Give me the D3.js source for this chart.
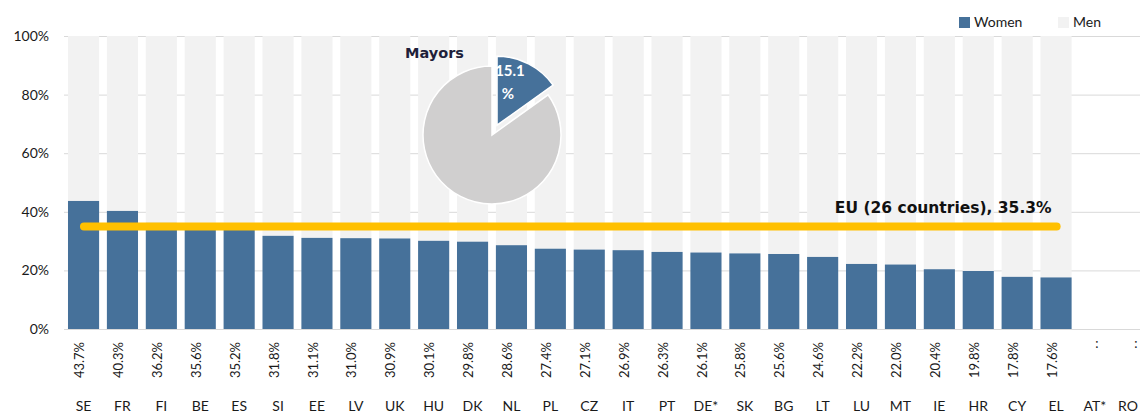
<!DOCTYPE html>
<html>
<head>
<meta charset="utf-8">
<script src="https://cdn.jsdelivr.net/npm/d3@7"></script>
<style>
  body { margin: 0; background: #fff; }
  svg { display: block; }
  text { font-family: Lato, "Open Sans", sans-serif; fill: #1a1a1a; }
</style>
</head>
<body>
<div id="chart"></div>
<script>
// categories and values
var countries = ["SE","FR","FI","BE","ES","SI","EE","LV","UK","HU","DK","NL","PL","CZ","IT","PT","DE*","SK","BG","LT","LU","MT","IE","HR","CY","EL","AT*","RO"];
var women = [43.7,40.3,36.2,35.6,35.2,31.8,31.1,31.0,30.9,30.1,29.8,28.6,27.4,27.1,26.9,26.3,26.1,25.8,25.6,24.6,22.2,22.0,20.4,19.8,17.8,17.6,null,null];
var yTicks = [0,20,40,60,80,100];
var euAvg = 35.3;
var euLabel = "EU (26 countries), 35.3%";
var pieLabels = ["Women","Men"];
var pieValues = [15.1, 84.9];

var width = 1140, height = 414;
var blue = "#46719a", menGrey = "#f2f2f2", pieGrey = "#d0cfcf";

var svg = d3.select("#chart")
    .append("svg")
    .attr("width", width)
    .attr("height", height);

var x = d3.scaleBand()
    .domain(countries)
    .range([64.1, 1153.3])
    .paddingInner(0.2)
    .paddingOuter(0.1);

var y = d3.scaleLinear()
    .domain([0,100])
    .range([329,36]);

// gridlines
svg.append("g")
    .selectAll("line")
    .data(yTicks)
    .enter().append("line")
    .attr("x1", 64).attr("x2", width)
    .attr("y1", d => y(d) + 0.5).attr("y2", d => y(d) + 0.5)
    .attr("stroke", "#d9d9d9")
    .attr("stroke-width", 1);

// y labels
svg.append("g")
    .selectAll("text")
    .data(yTicks)
    .enter().append("text")
    .attr("x", 49)
    .attr("y", d => y(d) + 5)
    .attr("text-anchor", "end")
    .style("font-size", "14px")
    .text(d => d + "%");

var rows = countries.map((c, i) => ({country: c, value: women[i]}));
var withData = rows.filter(d => d.value != null);

// men part (rest to 100%)
svg.append("g")
    .selectAll("rect")
    .data(withData)
    .enter().append("rect")
    .attr("x", d => x(d.country))
    .attr("y", y(100))
    .attr("width", x.bandwidth())
    .attr("height", d => y(d.value) - y(100))
    .attr("fill", menGrey);

// women bars
svg.append("g")
    .selectAll("rect")
    .data(withData)
    .enter().append("rect")
    .attr("x", d => x(d.country))
    .attr("y", d => y(d.value))
    .attr("width", x.bandwidth())
    .attr("height", d => y(0) - y(d.value))
    .attr("fill", blue);

// value labels (rotated)
svg.append("g")
    .selectAll("text")
    .data(rows)
    .enter().append("text")
    .attr("transform", d => d.value != null
        ? "translate(" + (x(d.country) + x.bandwidth()/2 - 4) + ",342) rotate(-90)"
        : "translate(" + (x(d.country) + x.bandwidth()/2 + 2) + ",348)")
    .attr("text-anchor", d => d.value != null ? "end" : "middle")
    .attr("dy", d => d.value != null ? "0.35em" : "0")
    .style("font-size", "13px")
    .text(d => d.value != null ? d.value.toFixed(1) + "%" : ":");

// category labels (last one kept inside the frame)
svg.append("g")
    .selectAll("text")
    .data(countries)
    .enter().append("text")
    .attr("x", d => Math.min(x(d) + x.bandwidth()/2, width - 12))
    .attr("y", 411)
    .attr("text-anchor", "middle")
    .style("font-size", "14px")
    .text(d => d);

// EU average line
var firstC = countries[0], lastC = countries[25];
svg.append("line")
    .attr("x1", x(firstC) + 16)
    .attr("x2", x(lastC) + x.bandwidth() - 15)
    .attr("y1", y(euAvg) + 1).attr("y2", y(euAvg) + 1)
    .attr("stroke", "#ffc000")
    .attr("stroke-width", 8)
    .attr("stroke-linecap", "round");

svg.append("text")
    .attr("x", x(lastC) + x.bandwidth() - 20)
    .attr("y", y(euAvg) - 13)
    .attr("text-anchor", "end")
    .style("font-family", "'DejaVu Sans', sans-serif")
    .style("font-weight", "bold")
    .style("font-size", "15.5px")
    .style("fill", "#111")
    .text(euLabel);

// pie inset
var cx = 492, cy = 135, r = 69;
var pie = d3.pie().sort(null)(pieValues);
var arc = d3.arc().innerRadius(0).outerRadius(r);
var pg = svg.append("g").attr("transform", "translate(" + cx + "," + cy + ")");

pg.selectAll("path")
    .data(pie)
    .enter().append("path")
    .attr("transform", (d, i) => {
        if (i !== 0) return null;
        var a = (d.startAngle + d.endAngle) / 2, off = 11;
        return "translate(" + (Math.sin(a) * off) + "," + (-Math.cos(a) * off) + ")";
    })
    .attr("d", arc)
    .attr("fill", (d, i) => i === 0 ? blue : pieGrey)
    .attr("stroke", "#fff")
    .attr("stroke-width", 1.5);

var lbl = pg.append("text")
    .attr("text-anchor", "middle")
    .style("font-weight", "bold")
    .style("font-size", "15px")
    .style("fill", "#fff");
lbl.append("tspan").attr("x", 18).attr("y", -59).text(pieValues[0].toFixed(1));
lbl.append("tspan").attr("x", 16).attr("y", -36).text("%");

svg.append("text")
    .attr("x", 405)
    .attr("y", 58)
    .style("font-family", "'DejaVu Sans', sans-serif")
    .style("font-weight", "bold")
    .style("font-size", "14.5px")
    .style("fill", "#1f1f3a")
    .text("Mayors");

// legend
var legend = svg.append("g");
var legX = [959, 1058];
pieLabels.forEach(function(name, i) {
    legend.append("rect")
        .attr("x", legX[i]).attr("y", 17)
        .attr("width", 11).attr("height", 11)
        .attr("fill", i === 0 ? blue : menGrey);
    legend.append("text")
        .attr("x", legX[i] + 15).attr("y", 27)
        .style("font-size", "14px")
        .text(name);
});
</script>
</body>
</html>
